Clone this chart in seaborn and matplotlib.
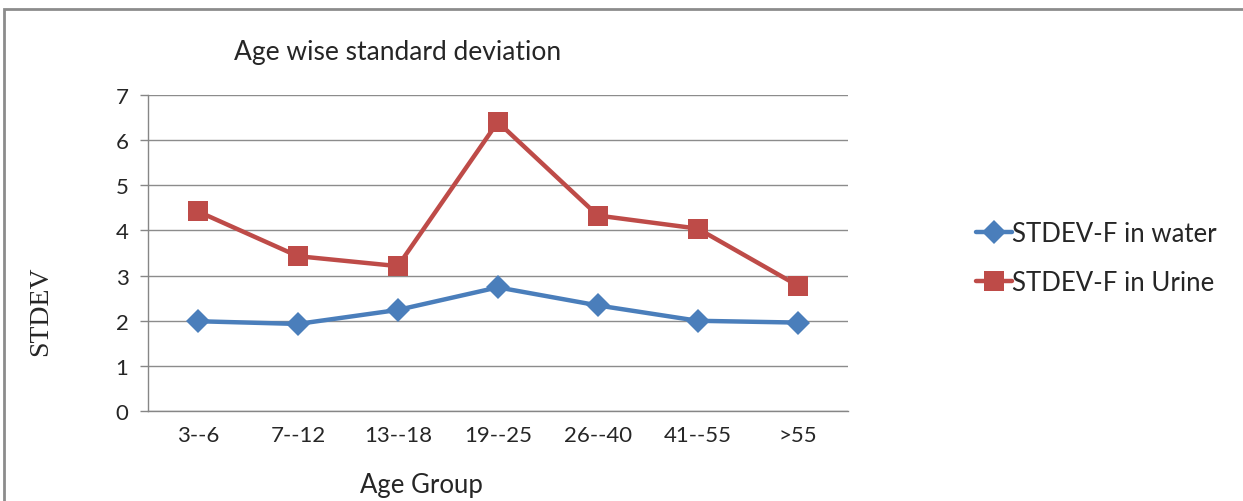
import pandas as pd
import numpy as np
import matplotlib.pyplot as plt
import seaborn as sns
from matplotlib.patches import Rectangle

# datos del grafico
grupos = ["3--6", "7--12", "13--18", "19--25", "26--40", "41--55", ">55"]
agua = [1.99, 1.93, 2.24, 2.74, 2.34, 2.00, 1.96]
orina = [4.42, 3.43, 3.21, 6.40, 4.33, 4.04, 2.78]
series = ["STDEV-F in water", "STDEV-F in Urine"]

df = pd.DataFrame({
    "Age Group": grupos * 2,
    "STDEV": agua + orina,
    "Serie": [series[0]] * len(grupos) + [series[1]] * len(grupos),
})
df["x"] = list(range(len(grupos))) * 2

sns.set_style("white")
plt.rcParams["font.family"] = ["Lato", "DejaVu Sans"]

fig = plt.figure(figsize=(12.43, 5.02), dpi=100)
ax = fig.add_axes([0.119, 0.179, 0.563, 0.630])

colores = {series[0]: "#4A7EBB", series[1]: "#BE4B48"}
sns.lineplot(
    data=df, x="x", y="STDEV", hue="Serie", style="Serie",
    palette=colores, markers={series[0]: "D", series[1]: "s"},
    dashes=False, linewidth=3.2, markersize=15, markeredgewidth=0,
    sort=False, ax=ax,
)
# ajustar tamaño del rombo
for ln in ax.get_lines():
    if ln.get_marker() == "D":
        ln.set_markersize(12)

ax.set_xlim(-0.5, len(grupos) - 0.5)
ax.set_ylim(0, 7)
ax.set_yticks(range(0, 8))
ax.set_xticks(range(len(grupos)))
ax.set_xticklabels(grupos)
ax.set_xticks(np.arange(-0.5, len(grupos), 1), minor=True)
ax.tick_params(axis="x", which="major", length=0, labelsize=16, pad=10)
ax.tick_params(axis="x", which="minor", length=6, color="#868686", width=1)
ax.tick_params(axis="y", length=6, color="#868686", width=1, labelsize=16, left=True, pad=8)
ax.grid(axis="y", color="#8C8C8C", linewidth=1)
ax.set_axisbelow(True)
for lado in ["top", "right"]:
    ax.spines[lado].set_visible(False)
for lado in ["left", "bottom"]:
    ax.spines[lado].set_color("#868686")
    ax.spines[lado].set_linewidth(1)

ax.set_xlabel("Age Group", fontsize=18.5)
ax.xaxis.set_label_coords(0.339, 0.058, transform=fig.transFigure)
ax.set_ylabel("STDEV", fontsize=20, family=["Liberation Serif"])
ax.yaxis.set_label_coords(0.043, 0.38, transform=fig.transFigure)
fig.text(0.32, 0.896, "Age wise standard deviation", fontsize=19, ha="center", va="center")

handles, labels = ax.get_legend_handles_labels()
for h in handles:
    h.set_linewidth(3.2)
ax.legend(handles, labels, loc="center left", bbox_to_anchor=(0.785, 0.484),
          bbox_transform=fig.transFigure, frameon=False, fontsize=18.5,
          handlelength=1.4, handletextpad=0.0, labelspacing=0.95,
          borderpad=0, borderaxespad=0)

# marco del grafico
fig.patches.append(Rectangle((0.003, -0.05), 1.2, 1.03, transform=fig.transFigure,
                             fill=False, edgecolor="#8C8C8C", linewidth=2))

plt.savefig("out.png", dpi=100)
